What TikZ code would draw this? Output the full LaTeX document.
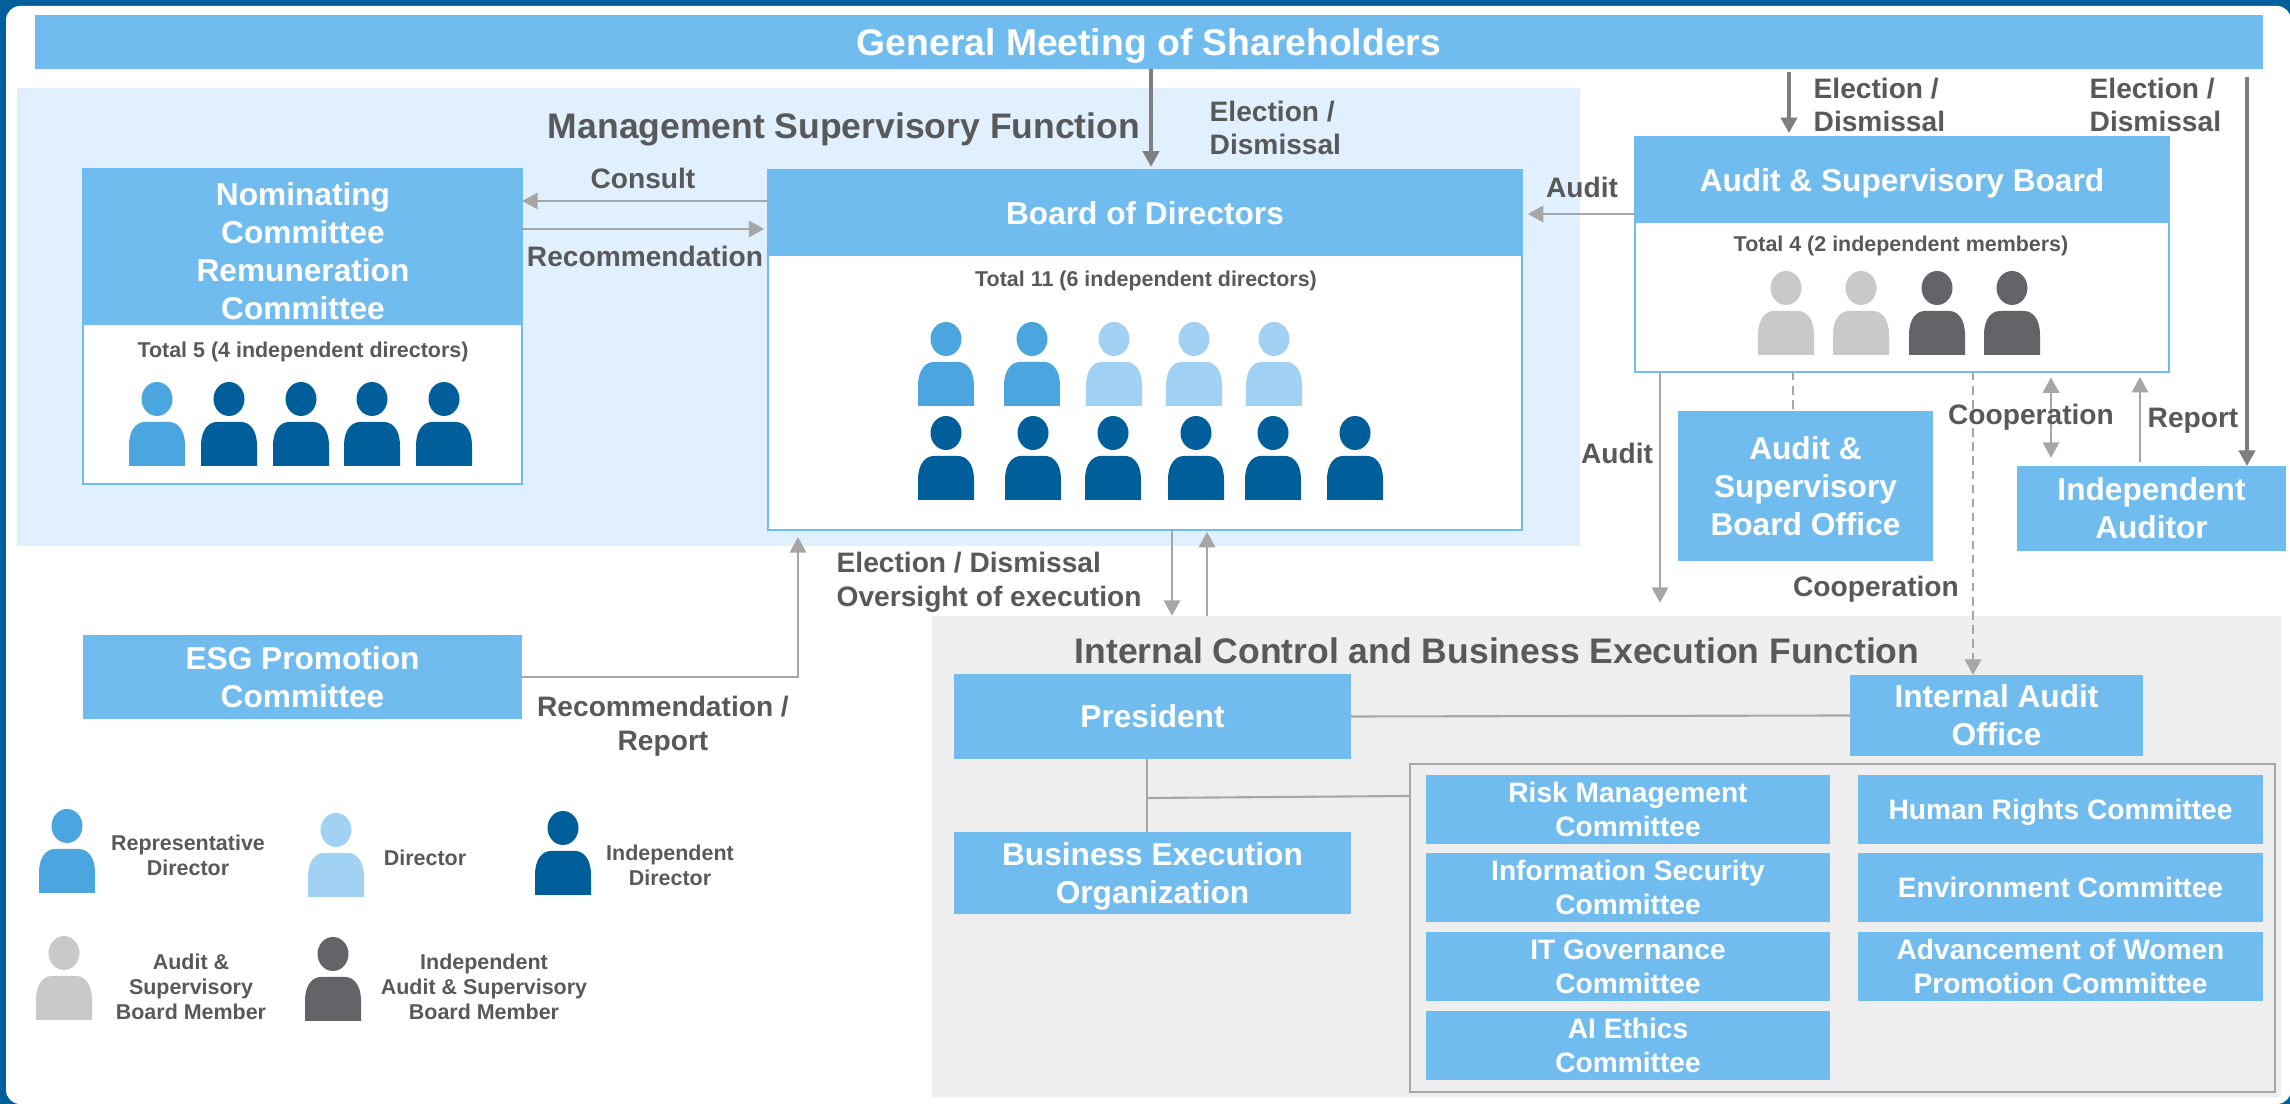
\documentclass[tikz,border=0pt]{standalone}
\usepackage{fontspec}
\setmainfont{Liberation Sans}
\usetikzlibrary{arrows.meta}
\definecolor{frameblue}{HTML}{00609A}
\definecolor{boxblue}{HTML}{71BCEE}
\definecolor{supervisebg}{HTML}{E0F0FF}
\definecolor{internalbg}{HTML}{EEEEEE}
\definecolor{labelgray}{HTML}{595959}
\definecolor{arrgray}{HTML}{A6A6A6}
\definecolor{arrdarkgray}{HTML}{7F7F7F}
\definecolor{repdir}{HTML}{4BA5DE}
\definecolor{plaindir}{HTML}{A1D2F3}
\definecolor{inddir}{HTML}{005F9B}
\definecolor{auditmem}{HTML}{C8C9CB}
\definecolor{indaudit}{HTML}{636467}
\tikzset{
	bluebox/.style={fill=boxblue, text=white, align=center, inner sep=0pt, outer sep=0pt, text depth=0pt, font=\bfseries\fontsize{9}{10.8}\selectfont},
	smallbox/.style={bluebox, minimum width=4.04cm, minimum height=0.69cm, font=\bfseries\fontsize{8}{9.7}\selectfont},
	panel/.style={draw=boxblue, fill=white, line width=0.6pt, inner sep=0pt, outer sep=0pt},
	region/.style={inner sep=0pt, outer sep=0pt},
	titletext/.style={text=labelgray, inner sep=0pt, font=\bfseries\fontsize{10.1}{12}\selectfont},
	label/.style={text=labelgray, align=center, inner sep=0pt, font=\bfseries\fontsize{8}{9.6}\selectfont},
	tinytext/.style={text=labelgray, align=center, inner sep=0pt, font=\bfseries\fontsize{6.1}{7.2}\selectfont},
	arr/.style={draw=arrgray, line width=0.8pt, -{Triangle[length=4.4pt,width=4.6pt]}},
	arrdark/.style={arr, draw=arrdarkgray, line width=1pt},
	dashline/.style={draw=arrgray, line width=0.7pt, dash pattern=on 2.4pt off 1.6pt},
	thinline/.style={draw=arrgray, line width=0.6pt}
}
% one figure: x of its middle, y of its feet, colour
\newcommand{\person}[3]{
	\begin{scope}[shift={(#1,#2)}]
		\fill[#3] (0,-67) ellipse [x radius=15.5, y radius=17];
		\fill[#3] (-28,0) -- (-28,-20) .. controls (-28,-37) and (-20,-44) .. (-12,-44) -- (12,-44) .. controls (20,-44) and (28,-37) .. (28,-20) -- (28,0) -- cycle;
	\end{scope}
}
\begin{document}
\begin{tikzpicture}[x=0.01cm,y=-0.01cm]
	\useasboundingbox (0,0) rectangle (2290,1104);
	\fill[frameblue] (0,0) rectangle (2290,1104);
	\fill[white, rounded corners=4pt] (6,6) rectangle (2291,1104);

	% regions
	\node[region, fill=supervisebg, minimum width=15.63cm, minimum height=4.58cm] (supervise) at (798.5,317) {};
	\node[region, fill=internalbg, minimum width=13.49cm, minimum height=4.81cm] (internal) at (1606.5,856.5) {};
	\node[titletext] (supervisetitle) at (844,129) {Management Supervisory Function};
	\node[titletext] (internaltitle) at (1497,651) {Internal Control and Business Execution Function};

	\node[bluebox, minimum width=22.26cm, minimum height=0.54cm, font=\bfseries\fontsize{10.6}{12}\selectfont] (gms) at (1149,42) {General Meeting of Shareholders};

	% committee panel
	\node[panel, minimum width=4.39cm, minimum height=3.15cm] (nominating) at (302.5,326.5) {};
	\node[bluebox, minimum width=4.39cm, minimum height=1.56cm] (nominatinghead) at (302.5,247) {};
	\node[text=white, align=center, inner sep=0pt, font=\bfseries\fontsize{9}{10.8}\selectfont] (nominatingtext) at (303,251) {Nominating\\Committee\\Remuneration\\Committee};
	\node[tinytext] (nominatingtotal) at (303,352) {Total 5 (4 independent directors)};
	\person{157}{466}{repdir}
	\foreach \x in {229,301,372,444}{
		\person{\x}{466}{inddir}
	}

	% board panel
	\node[panel, minimum width=7.54cm, minimum height=3.6cm] (board) at (1145,350) {};
	\node[bluebox, minimum width=7.54cm, minimum height=0.85cm] (boardhead) at (1145,213) {Board of Directors};
	\node[tinytext] (boardtotal) at (1146,281) {Total 11 (6 independent directors)};
	\foreach \x in {946,1032}{
		\person{\x}{406}{repdir}
	}
	\foreach \x in {1114,1194,1274}{
		\person{\x}{406}{plaindir}
	}
	\foreach \x in {946,1033,1113,1196,1273,1355}{
		\person{\x}{500}{inddir}
	}

	% audit panel
	\node[panel, minimum width=5.34cm, minimum height=2.35cm] (asb) at (1902,254.5) {};
	\node[bluebox, minimum width=5.34cm, minimum height=0.86cm] (asbhead) at (1902,180) {Audit \& Supervisory Board};
	\node[tinytext] (asbtotal) at (1901,246) {Total 4 (2 independent members)};
	\foreach \x in {1786,1861}{
		\person{\x}{355}{auditmem}
	}
	\foreach \x in {1937,2012}{
		\person{\x}{355}{indaudit}
	}

	\node[bluebox, minimum width=2.55cm, minimum height=1.5cm] (asboffice) at (1805.5,486) {Audit \&\\Supervisory\\Board Office};
	\node[bluebox, minimum width=2.69cm, minimum height=0.85cm] (auditor) at (2151.5,508.5) {Independent\\Auditor};
	\node[bluebox, minimum width=4.39cm, minimum height=0.84cm] (esg) at (302.5,677) {ESG Promotion\\Committee};

	% internal control side
	\node[bluebox, minimum width=3.97cm, minimum height=0.85cm] (president) at (1152.5,716.5) {President};
	\node[bluebox, minimum width=2.93cm, minimum height=0.81cm] (iao) at (1996.5,715.5) {Internal Audit\\Office};
	\node[bluebox, minimum width=3.97cm, minimum height=0.82cm] (bizexec) at (1152.5,873) {Business Execution\\Organization};
	\node[region, draw=arrgray, line width=0.6pt, minimum width=8.65cm, minimum height=3.28cm] (committees) at (1842.5,928) {};
	\node[smallbox] (risk) at (1628,809.5) {Risk Management\\Committee};
	\node[smallbox] (infosec) at (1628,887.5) {Information Security\\Committee};
	\node[smallbox] (itgov) at (1628,966.5) {IT Governance\\Committee};
	\node[smallbox] (aiethics) at (1628,1045.5) {AI Ethics\\Committee};
	\node[smallbox] (rights) at (2060.5,809.5) {Human Rights Committee};
	\node[smallbox] (environment) at (2060.5,887.5) {Environment Committee};
	\node[smallbox] (women) at (2060.5,966.5) {Advancement of Women\\Promotion Committee};

	% connectors
	\draw[arrdark, shorten >=0.9pt] (gms.south -| 1151,0) -- (board.north -| 1151,0);
	\draw[arrdark, shorten <=0.9pt, shorten >=1.1pt] (gms.south -| 1789,0) -- (asb.north -| 1789,0);
	\draw[arrdark, shorten <=2.3pt] (gms.south -| 2247,0) -- (auditor.north -| 2247,0);
	\draw[arr] (board.west |- 0,201) -- (nominating.east |- 0,201);
	\draw[arr, shorten >=1pt] (nominating.east |- 0,229) -- (board.west |- 0,229);
	\draw[arr, shorten >=1.6pt] (asb.west |- 0,214) -- (board.east |- 0,214);
	\draw[arr, shorten >=3.7pt] (asb.south -| 1660,0) -- (internal.north -| 1660,0);
	\draw[arr] (board.south -| 1172,0) -- (internal.north -| 1172,0);
	\draw[arr, shorten >=0.5pt] (internal.north -| 1207,0) -- (board.south -| 1207,0);
	\draw[arr, shorten >=2pt] (esg.east) -| (board.south -| 798,0);
	\draw[dashline] (asb.south -| 1793,0) -- (asboffice.north -| 1793,0);
	\draw[dashline, -{Triangle[length=4.4pt,width=4.6pt]}] (asb.south -| 1973,0) -- (iao.north -| 1973,0);
	\draw[arr, {Triangle[length=4.4pt,width=4.6pt]}-{Triangle[length=4.4pt,width=4.6pt]}, shorten <=1.5pt, shorten >=2.3pt] (asb.south -| 2051,0) -- (auditor.north -| 2051,0);
	\draw[arr, shorten <=1.1pt, shorten >=1.4pt] (auditor.north -| 2140,0) -- (asb.south -| 2140,0);
	\draw[thinline] (president.east) -- (iao.west);
	\draw[thinline] (president.south -| 1147,0) -- (bizexec.north -| 1147,0);
	\draw[thinline] (1147,798) -- (committees.west |- 0,796);

	% labels
	\node[label] (consultlbl) at (643,178) {Consult};
	\node[label] (recommendlbl) at (645,256) {Recommendation};
	\node[label, align=left, anchor=west] (electboard) at (1209,128) {Election /\\Dismissal};
	\node[label, align=left, anchor=west] (electasb) at (1813,105) {Election /\\Dismissal};
	\node[label, align=left, anchor=west] (electauditor) at (2089,105) {Election /\\Dismissal};
	\node[label] (auditboard) at (1582,187) {Audit};
	\node[label] (auditdown) at (1617,453) {Audit};
	\node[label] (coopauditor) at (2031,417) {Cooperation};
	\node[label] (reportlbl) at (2193,421) {Report};
	\node[label] (coopoffice) at (1876,589) {Cooperation};
	\node[label, align=left, anchor=west] (oversight) at (836,582) {Election / Dismissal\\Oversight of execution};
	\node[label] (esgreport) at (663,726) {Recommendation /\\Report};

	% legend
	\person{67}{893}{repdir}
	\person{336}{897}{plaindir}
	\person{563}{895}{inddir}
	\person{64}{1020}{auditmem}
	\person{333}{1021}{indaudit}
	\node[tinytext] (legendrep) at (188,855) {Representative\\Director};
	\node[tinytext] (legenddir) at (425,858) {Director};
	\node[tinytext] (legendind) at (670,865) {Independent\\Director};
	\node[tinytext] (legendasb) at (191,987) {Audit \&\\Supervisory\\Board Member};
	\node[tinytext] (legendindasb) at (484,987) {Independent\\Audit \& Supervisory\\Board Member};
\end{tikzpicture}
\end{document}
